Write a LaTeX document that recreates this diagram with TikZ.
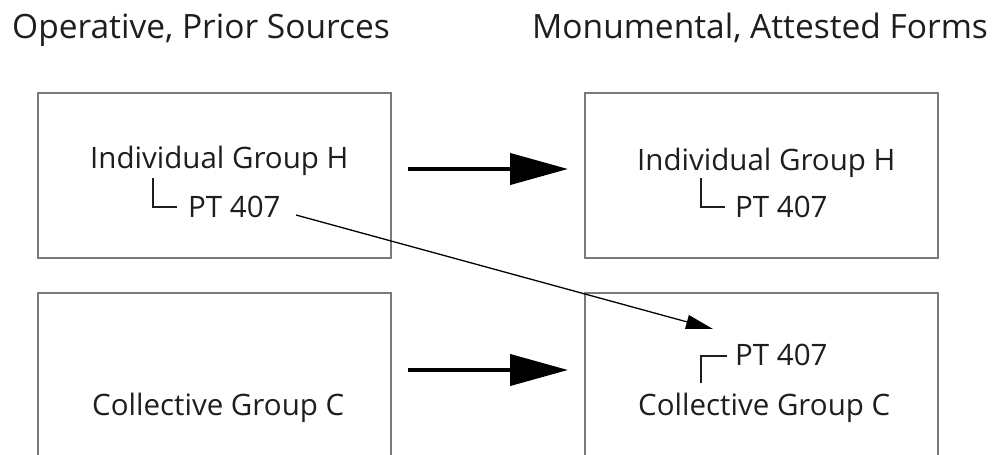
\documentclass[tikz,border=0pt]{standalone}
\usepackage{fontspec}
\setmainfont{Open Sans}
\usetikzlibrary{arrows.meta}
\definecolor{ink}{HTML}{1E1E1E}
\definecolor{frame}{HTML}{7A7A7A}
\tikzset{
  panel/.style={draw=frame, line width=1.4pt, rectangle, inner sep=0pt},
  label/.style={text=ink, font=\fontsize{29.5}{32}\selectfont, inner sep=0pt, anchor=base west},
  title/.style={text=ink, font=\fontsize{33.5}{38}\selectfont, inner sep=0pt, anchor=base west},
  flow/.style={line width=4.2pt, -{Triangle[length=58pt,width=31pt]}},
  link/.style={line width=1.3pt, -{Triangle[length=27pt,width=14pt]}},
  hook/.style={line width=1.8pt, ink}
}
\begin{document}
\begin{tikzpicture}[x=1pt,y=-1pt]
\useasboundingbox (0,0) rectangle (997,455);
\clip (0,0) rectangle (997,455);
\fill[white] (0,0) rectangle (997,455);

% column headings
\node[title] (hl) at (12,38) {Operative, Prior Sources};
\node[title] (hr) at (532,38) {Monumental, Attested Forms};

% panels
\node[panel, minimum width=353pt, minimum height=165pt] (srcI) at (214.5,175.5) {};
\node[panel, minimum width=353pt, minimum height=165pt] (monI) at (761.5,175.5) {};
\node[panel, minimum width=353pt, minimum height=200pt] (srcC) at (214.5,393) {};
\node[panel, minimum width=353pt, minimum height=200pt] (monC) at (761.5,393) {};

% top-left panel text
\node[label] (indL) at (90,168) {Individual Group H};
\node[label] (ptL) at (188,217) {PT 407};
\draw[hook] (153,178) |- (177,207);

% top-right panel text
\node[label] (indR) at (637,170) {Individual Group H};
\node[label] (ptR) at (735,217) {PT 407};
\draw[hook] (701,178) |- (725,207);

% bottom-left panel text
\node[label] (colL) at (92,415) {Collective Group C};

% bottom-right panel text
\node[label] (ptC) at (735,365) {PT 407};
\draw[hook] (701,383) |- (727,356);
\node[label] (colR) at (638,415) {Collective Group C};

% connectors
\coordinate (a1) at (408,169);
\coordinate (a2) at (568,169);
\coordinate (b1) at (408,370);
\coordinate (b2) at (568,370);
\draw[flow] (a1) -- (a2);
\draw[flow] (b1) -- (b2);
\coordinate (tStart) at (296,215);
\coordinate (tEnd) at (713,329);
\draw[link] (tStart) -- (tEnd);
\end{tikzpicture}
\end{document}
